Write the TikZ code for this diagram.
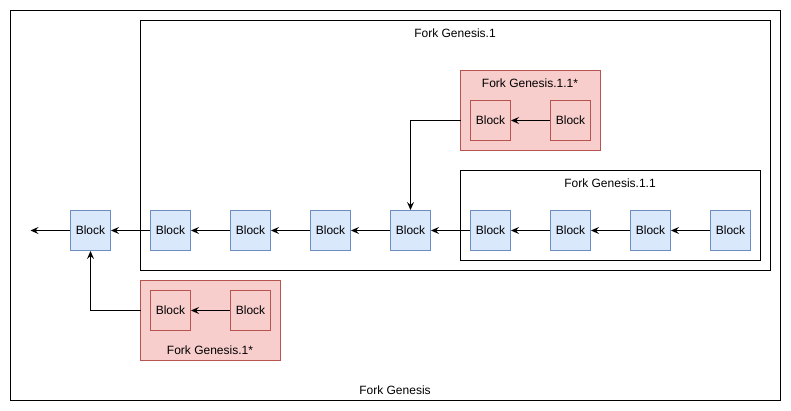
\documentclass[tikz,border=0pt]{standalone}
\usepackage{fontspec}
\setmainfont{Liberation Sans}
\usetikzlibrary{arrows.meta}
\definecolor{bfill}{HTML}{DAE8FC}
\definecolor{bdraw}{HTML}{6C8EBF}
\definecolor{rfill}{HTML}{F8CECC}
\definecolor{rdraw}{HTML}{B85450}
\begin{document}
\begin{tikzpicture}[x=1pt,y=-1pt,
  every node/.style={font=\fontsize{12}{14}\selectfont, inner sep=0pt},
  container/.style={draw=black, line width=1pt, fill=white},
  redbox/.style={draw=rdraw, line width=1pt, fill=rfill},
  blueblock/.style={draw=bdraw, fill=bfill, line width=1pt, minimum width=40pt, minimum height=40pt},
  redblock/.style={draw=rdraw, fill=rfill, line width=1pt, minimum width=40pt, minimum height=40pt},
  link/.style={draw=black, line width=1pt, -{Stealth[length=8pt,width=7pt,inset=3pt]}}]
\useasboundingbox (0,0) rectangle (791,411);
% containers
\draw[container] (10.5,10.5) rectangle (780.5,400.5);
\node (lg) at (395,390) {Fork Genesis};
\draw[container] (140.5,20.5) rectangle (770.5,270.5);
\node (lg1) at (455,33) {Fork Genesis.1};
\draw[container] (460.5,170.5) rectangle (760.5,260.5);
\node (lg11) at (610,183) {Fork Genesis.1.1};
\draw[redbox] (460.5,70.5) rectangle (600.5,150.5);
\coordinate (r11w) at (460.5,120.5);
\node (lg11s) at (530,83) {Fork Genesis.1.1*};
\draw[redbox] (140.5,280.5) rectangle (280.5,360.5);
\coordinate (r1w) at (140.5,310.5);
\node (lg1s) at (210,350) {Fork Genesis.1*};
% blue blocks
\foreach \i/\x in {1/90,2/170,3/250,4/330,5/410,6/490,7/570,8/650,9/730}
  \node[blueblock] (b\i) at (\x.5,230.5) {Block};
% red blocks
\node[redblock] (ra) at (490.5,120.5) {Block};
\node[redblock] (rb) at (570.5,120.5) {Block};
\node[redblock] (rc) at (170.5,310.5) {Block};
\node[redblock] (rd) at (250.5,310.5) {Block};
\coordinate (endl) at (30.5,230.5);
% connectors
\foreach \a/\b in {9/8,8/7,7/6,6/5,5/4,4/3,3/2,2/1}
  \draw[link] (b\a) -- (b\b);
\draw[link] (b1) -- (endl);
\draw[link] (rb) -- (ra);
\draw[link] (rd) -- (rc);
\draw[link] (r11w) -| (b5);
\draw[link] (r1w) -| (b1);
\end{tikzpicture}
\end{document}
